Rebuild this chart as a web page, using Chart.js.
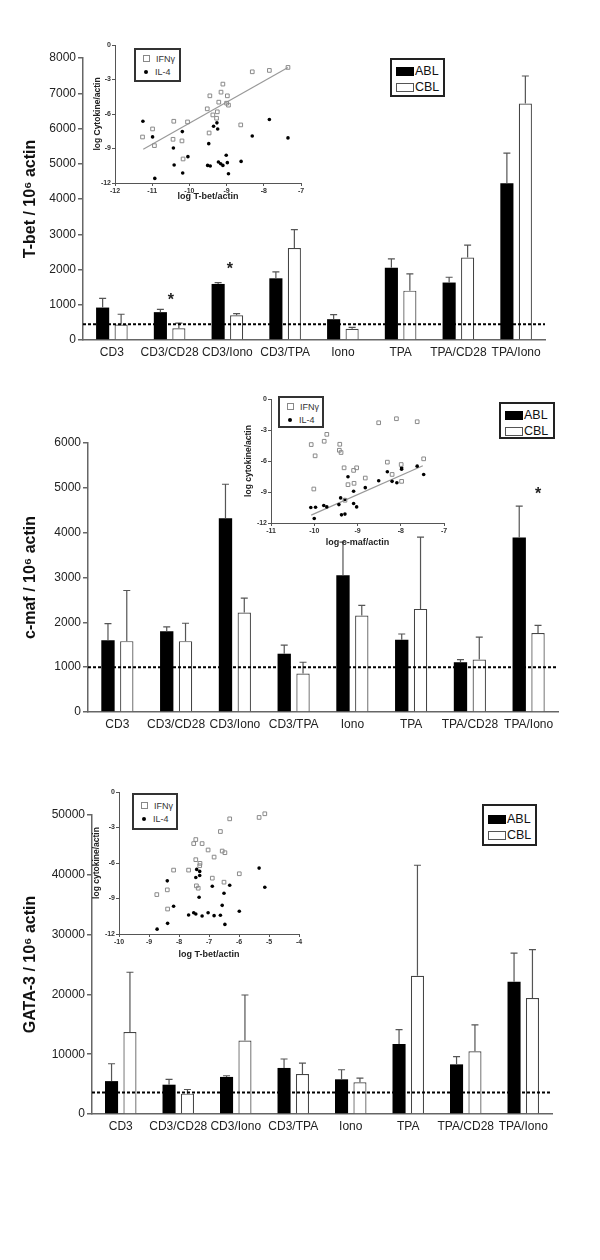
<!DOCTYPE html>
<html>
<head>
<meta charset="utf-8">
<script src="https://cdn.jsdelivr.net/npm/chart.js@4.4.1/dist/chart.umd.min.js"></script>
<style>
  body { margin: 0; background: #fff; }
  #page { position: relative; width: 600px; height: 1260px; overflow: hidden;
          font-family: "Liberation Sans", Arial, sans-serif; }
  canvas { position: absolute; }
  .legend { position: absolute; box-sizing: border-box; border: 2px solid #222; background: #fff;
            font-size: 12.5px; color: #111; padding: 3px 0 0 4px; line-height: 16px; }
  .sw { display: inline-block; width: 18px; height: 9px; margin-right: 1px; vertical-align: -1px; box-sizing: border-box; }
  .sw.abl { background: #000; }
  .sw.cbl { background: #fff; border: 1px solid #555; }
  .ilegend { position: absolute; box-sizing: border-box; border: 2px solid #333; background: #fff;
             font-size: 9px; color: #333; padding: 3px 0 0 7px; line-height: 13px; }
  .sq { display: inline-block; width: 5px; height: 5px; border: 1px solid #888; margin-right: 6px; vertical-align: 0px; }
  .dot { display: inline-block; width: 4px; height: 4px; border-radius: 50%; background: #000; margin: 0 7px 0 1px; vertical-align: 1px; }
</style>
</head>
<body>
<div id="page">
  <canvas id="tbet" width="600" height="372" style="left:0;top:0"></canvas>
  <canvas id="cmaf" width="600" height="360" style="left:0;top:380px"></canvas>
  <canvas id="gata" width="600" height="380" style="left:0;top:760px"></canvas>

  <canvas id="tbetInset" width="222" height="172" style="left:88px;top:35px"></canvas>
  <canvas id="cmafInset" width="212" height="162" style="left:240px;top:390px"></canvas>
  <canvas id="gataInset" width="219" height="183" style="left:88px;top:782px"></canvas>

  <div class="legend" style="left:390px;top:58px;width:55px;height:39px"><span class="sw abl"></span>ABL<br><span class="sw cbl"></span>CBL</div>
  <div class="legend" style="left:499px;top:402px;width:56px;height:37px"><span class="sw abl"></span>ABL<br><span class="sw cbl"></span>CBL</div>
  <div class="legend" style="left:482px;top:804px;width:55px;height:42px;padding-top:5px"><span class="sw abl"></span>ABL<br><span class="sw cbl"></span>CBL</div>

  <div class="ilegend" style="left:134px;top:48px;width:47px;height:34px"><span class="sq"></span>IFNγ<br><span class="dot"></span>IL-4</div>
  <div class="ilegend" style="left:278px;top:396px;width:46px;height:32px"><span class="sq"></span>IFNγ<br><span class="dot"></span>IL-4</div>
  <div class="ilegend" style="left:132px;top:793px;width:46px;height:37px;padding-top:5px"><span class="sq"></span>IFNγ<br><span class="dot"></span>IL-4</div>
</div>

<script>
'use strict'

const categories = ["CD3", "CD3/CD28", "CD3/Iono", "CD3/TPA", "Iono", "TPA", "TPA/CD28", "TPA/Iono"]

// T-bet / 10^6 actin  (bar value and top of the error bar)
const tbetABL    = [920, 790, 1590, 1750, 590, 2050, 1630, 4450]
const tbetABLTop = [1180, 870, 1630, 1930, 720, 2300, 1780, 5300]
const tbetCBL    = [440, 330, 700, 2610, 320, 1400, 2340, 6710]
const tbetCBLTop = [730, 480, 750, 3130, 360, 1875, 2690, 7490]
const tbetBase = 450
const tbetStarCats = [1, 2]
const tbetStarVals = [1200, 2080]

// c-maf / 10^6 actin
const cmafABL    = [1600, 1800, 4320, 1300, 3050, 1610, 1110, 3890]
const cmafABLTop = [1970, 1900, 5080, 1490, 3790, 1740, 1170, 4590]
const cmafCBL    = [1580, 1580, 2220, 860, 2150, 2300, 1170, 1760]
const cmafCBLTop = [2710, 1980, 2540, 1110, 2380, 3900, 1670, 1930]
const cmafBase = 1000
const cmafStarCats = [7]
const cmafStarVals = [4910]

// GATA-3 / 10^6 actin
const gataABL    = [5500, 4900, 6200, 7700, 5800, 11700, 8300, 22100]
const gataABLTop = [8400, 5800, 6400, 9200, 7400, 14100, 9600, 26900]
const gataCBL    = [13700, 3400, 12300, 6700, 5300, 23100, 10500, 19400]
const gataCBLTop = [23700, 4100, 19900, 8500, 6000, 41600, 14900, 27500]
const gataBase = 3600

// inset 1: log T-bet/actin vs log cytokine/actin
const tbetIFN = [[-11.26,-8.0],[-10.99,-7.3],[-10.94,-8.75],[-10.42,-6.63],[-10.44,-8.2],[-10.2,-8.34],
  [-10.17,-9.91],[-10.05,-6.69],[-9.52,-5.55],[-9.45,-4.42],[-9.47,-7.65],[-9.37,-6.08],[-9.27,-6.37],
  [-9.25,-5.81],[-9.21,-4.97],[-9.15,-4.1],[-9.1,-3.4],[-9.0,-5.06],[-8.98,-4.42],[-8.95,-5.23],
  [-8.62,-6.95],[-8.31,-2.33],[-7.85,-2.21],[-7.35,-1.95]]
const tbetIL4 = [[-11.25,-6.63],[-10.99,-7.99],[-10.43,-8.95],[-10.41,-10.44],[-10.19,-7.53],[-10.18,-11.13],
  [-10.04,-9.71],[-10.93,-11.6],[-9.48,-8.58],[-9.51,-10.47],[-9.44,-10.52],[-9.35,-7.06],[-9.26,-6.77],
  [-9.24,-7.3],[-9.22,-10.17],[-9.16,-10.32],[-9.1,-10.47],[-9.01,-9.59],[-8.98,-10.23],[-8.95,-11.19],
  [-8.61,-10.12],[-8.31,-7.91],[-7.85,-6.48],[-7.35,-8.08]]
const tbetFit = [[-11.24,-9.07],[-7.35,-1.95]]

// inset 2: log c-maf/actin
const cmafIFN = [[-10.07,-4.41],[-9.98,-5.5],[-10.01,-8.71],[-9.77,-4.09],[-9.71,-3.42],[-9.41,-4.38],
  [-9.42,-4.96],[-9.38,-5.18],[-9.31,-6.66],[-9.22,-8.29],[-9.09,-6.91],[-9.02,-6.66],[-9.08,-8.16],
  [-9.29,-9.8],[-8.82,-7.65],[-8.51,-2.3],[-8.31,-6.11],[-8.2,-7.3],[-8.1,-1.91],[-7.99,-6.34],
  [-7.98,-7.97],[-7.62,-2.2],[-7.47,-5.79]]
const cmafIL4 = [[-10.08,-10.5],[-9.97,-10.47],[-10.0,-11.56],[-9.78,-10.31],[-9.71,-10.44],[-9.43,-10.22],
  [-9.39,-9.57],[-9.37,-11.21],[-9.29,-11.14],[-9.29,-9.73],[-9.22,-7.52],[-9.09,-8.93],[-9.09,-10.12],
  [-9.02,-10.44],[-8.82,-8.58],[-8.51,-7.91],[-8.31,-7.04],[-8.2,-7.97],[-8.09,-8.1],[-7.98,-6.79],
  [-7.98,-6.66],[-7.62,-6.5],[-7.47,-7.3]]
const cmafFit = [[-10.07,-11.24],[-7.49,-6.46]]

// inset 3: log T-bet/actin (GATA-3 panel)
const gataIFN = [[-8.74,-8.67],[-8.39,-8.27],[-8.38,-9.89],[-8.18,-6.6],[-7.68,-6.6],[-7.51,-4.36],
  [-7.44,-4.02],[-7.44,-5.72],[-7.42,-7.93],[-7.36,-8.13],[-7.31,-6.23],[-7.3,-6.03],[-7.23,-4.36],
  [-7.03,-4.9],[-6.89,-7.28],[-6.83,-5.5],[-6.62,-3.34],[-6.56,-4.99],[-6.47,-5.13],[-6.5,-7.62],
  [-6.31,-2.27],[-5.99,-6.91],[-5.33,-2.15],[-5.14,-1.84]]
const gataIL4 = [[-8.73,-11.59],[-8.39,-7.51],[-8.38,-11.1],[-8.18,-9.66],[-7.68,-10.4],[-7.51,-10.2],
  [-7.44,-10.31],[-7.41,-6.54],[-7.44,-7.22],[-7.31,-6.71],[-7.31,-7.05],[-7.33,-8.9],[-7.23,-10.48],
  [-7.03,-10.2],[-6.89,-7.96],[-6.83,-10.45],[-6.62,-10.42],[-6.56,-9.58],[-6.5,-8.56],[-6.47,-11.19],
  [-6.31,-7.88],[-5.99,-10.08],[-5.33,-6.43],[-5.14,-8.05]]

const FONT = '"Liberation Sans", Arial, sans-serif'
Chart.defaults.font.family = FONT

// error bars, dashed detection line and stars, all placed through the chart's own scales
const overlayPlugin = {
    id: 'overlay',
    afterDatasetsDraw(chart, args, opts) {
        const ctx = chart.ctx
        const y = chart.scales.y
        const area = chart.chartArea

        opts.tops.forEach((tops, di) => {
            chart.getDatasetMeta(di).data.forEach((bar, i) => {
                const yt = y.getPixelForValue(tops[i])
                ctx.save()
                ctx.strokeStyle = '#555'
                ctx.lineWidth = 1.2
                ctx.beginPath()
                ctx.moveTo(bar.x, bar.y)
                ctx.lineTo(bar.x, yt)
                ctx.moveTo(bar.x - 3.5, yt)
                ctx.lineTo(bar.x + 3.5, yt)
                ctx.stroke()
                ctx.restore()
            })
        })

        const yb = y.getPixelForValue(opts.base)
        ctx.save()
        ctx.setLineDash([3, 2])
        ctx.lineWidth = 2
        ctx.strokeStyle = '#000'
        ctx.beginPath()
        ctx.moveTo(area.left, yb)
        ctx.lineTo(area.right, yb)
        ctx.stroke()
        ctx.restore()

        const a = chart.getDatasetMeta(0).data
        const b = chart.getDatasetMeta(1).data
        opts.starCats.forEach((ci, k) => {
            const x = a[ci].x + (b[ci].x - a[ci].x) * opts.starSide[k]
            ctx.save()
            ctx.font = 'bold 16px ' + FONT
            ctx.fillStyle = '#222'
            ctx.textAlign = 'center'
            ctx.textBaseline = 'middle'
            ctx.fillText('*', x, y.getPixelForValue(opts.starVals[k]) + 3)
            ctx.restore()
        })
    }
}

function barChart(id, title, abl, ablTop, cbl, cblTop, base, yMax, yStep, stars, box) {
    new Chart(document.getElementById(id), {
        type: 'bar',
        data: {
            labels: categories,
            datasets: [
                { label: 'ABL', data: abl, backgroundColor: '#000', borderWidth: 0 },
                { label: 'CBL', data: cbl, backgroundColor: '#fff', borderColor: '#444', borderWidth: 1.2 }
            ]
        },
        options: {
            responsive: false,
            animation: false,
            devicePixelRatio: 1,
            barPercentage: 0.71,
            categoryPercentage: 0.64,
            layout: { padding: { left: 0, top: box.top, right: box.right, bottom: 0 } },
            plugins: {
                legend: { display: false },
                tooltip: { enabled: false },
                overlay: { tops: [ablTop, cblTop], base: base, starCats: stars[0], starVals: stars[1], starSide: stars[2] }
            },
            scales: {
                x: {
                    grid: { display: false, drawTicks: false },
                    border: { display: true, color: '#666', width: 1.5 },
                    ticks: { color: '#222', font: { size: 12 }, padding: 5, maxRotation: 0, autoSkip: false },
                    afterFit(scale) { scale.height = box.xh }
                },
                y: {
                    min: 0,
                    max: yMax,
                    ticks: { stepSize: yStep, color: '#222', font: { size: 12 }, padding: 2,
                             callback: v => String(v) },
                    grid: { drawOnChartArea: false, drawTicks: true, tickLength: 5, color: '#666', lineWidth: 1.5 },
                    border: { display: true, color: '#666', width: 1.5 },
                    title: { display: true, text: title, color: '#111', font: { size: 16, weight: 'bold' },
                             padding: { top: 21, bottom: 0 } },
                    afterFit(scale) { scale.width = box.yw }
                }
            }
        },
        plugins: [overlayPlugin]
    })
}

function toXY(pts) {
    return pts.map(p => ({ x: p[0], y: p[1] }))
}

function insetChart(id, ifn, il4, fit, xMin, xMax, xTitle, yTitle, box) {
    const datasets = [
        { data: toXY(ifn), pointStyle: 'rect', pointRadius: 2.6, borderColor: '#8a8a8a', borderWidth: 1,
          backgroundColor: 'rgba(255,255,255,0)' },
        { data: toXY(il4), pointStyle: 'circle', pointRadius: 1.8, borderWidth: 0, backgroundColor: '#000' }
    ]
    if (fit) {
        datasets.push({ type: 'line', data: toXY(fit), borderColor: '#999', borderWidth: 1.2, pointRadius: 0, fill: false })
    }
    const tickFont = { size: 7, weight: 'bold' }
    new Chart(document.getElementById(id), {
        type: 'scatter',
        data: { datasets: datasets },
        options: {
            responsive: false,
            animation: false,
            devicePixelRatio: 1,
            layout: { padding: { left: 0, top: box.top, right: box.right, bottom: 0 } },
            plugins: { legend: { display: false }, tooltip: { enabled: false } },
            scales: {
                x: {
                    type: 'linear', min: xMin, max: xMax,
                    ticks: { stepSize: 1, color: '#333', font: tickFont, padding: 1 },
                    grid: { drawOnChartArea: false, tickLength: 3, color: '#555' },
                    border: { display: true, color: '#555', width: 1 },
                    title: { display: true, text: xTitle, color: '#222', font: { size: 9, weight: 'bold' },
                             padding: { top: 0, bottom: box.xp } },
                    afterFit(scale) { scale.height = box.xh }
                },
                y: {
                    min: -12, max: 0,
                    ticks: { stepSize: 3, color: '#333', font: tickFont, padding: 1 },
                    grid: { drawOnChartArea: false, tickLength: 3, color: '#555' },
                    border: { display: true, color: '#555', width: 1 },
                    title: { display: true, text: yTitle, color: '#222', font: { size: 8.5, weight: 'bold' },
                             padding: { top: box.yp, bottom: 0 } },
                    afterFit(scale) { scale.width = box.yw }
                }
            }
        }
    })
}

barChart('tbet', 'T-bet / 10⁶ actin', tbetABL, tbetABLTop, tbetCBL, tbetCBLTop, tbetBase, 8000, 1000,
    [tbetStarCats, tbetStarVals, [0.57, 0.63]], { top: 58, right: 55, yw: 83, xh: 32 })
barChart('cmaf', 'c-maf / 10⁶ actin', cmafABL, cmafABLTop, cmafCBL, cmafCBLTop, cmafBase, 6000, 1000,
    [cmafStarCats, cmafStarVals, [1.0]], { top: 63, right: 42, yw: 88, xh: 28 })
barChart('gata', 'GATA-3 / 10⁶ actin', gataABL, gataABLTop, gataCBL, gataCBLTop, gataBase, 50000, 10000,
    [[], [], []], { top: 55, right: 48, yw: 92, xh: 26 })

insetChart('tbetInset', tbetIFN, tbetIL4, tbetFit, -12, -7, 'log T-bet/actin', 'log Cytokine/actin',
    { top: 10, right: 9, yw: 27, xh: 24, xp: 4.6, yp: 4.6 })
insetChart('cmafInset', cmafIFN, cmafIL4, cmafFit, -11, -7, 'log c-maf/actin', 'log cytokine/actin',
    { top: 9, right: 8, yw: 31, xh: 29, xp: 3.6, yp: 3.6 })
insetChart('gataInset', gataIFN, gataIL4, null, -10, -4, 'log T-bet/actin', 'log cytokine/actin',
    { top: 10, right: 8, yw: 31, xh: 31, xp: 4.6, yp: 3.6 })
</script>
</body>
</html>
